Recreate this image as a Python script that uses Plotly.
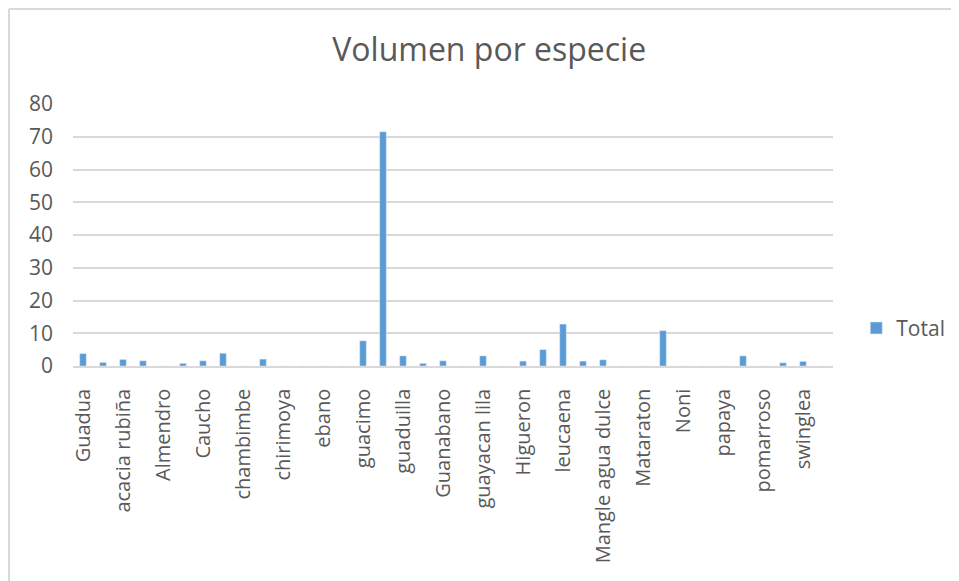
import plotly.graph_objects as go

species = [
    "Guadua", "acacia", "acacia rubiña", "aguacate", "Almendro", "balso",
    "Caucho", "cedro", "chambimbe", "chiminango", "chirimoya", "coco",
    "ebano", "eucalipto", "guacimo", "guadual", "guaduilla", "guamo",
    "Guanabano", "guayabo", "guayacan lila", "guayacan rosado", "Higueron", "iguá",
    "leucaena", "limon", "Mangle agua dulce", "mango", "Mataraton", "nim",
    "Noni", "palma", "papaya", "pino", "pomarroso", "saman",
    "swinglea", "teca",
]
totals = [
    3.8, 1.1, 2.0, 1.6, 0.0, 0.8,
    1.6, 3.9, 0.0, 2.1, 0.0, 0.0,
    0.0, 0.0, 7.7, 71.5, 3.1, 0.8,
    1.6, 0.0, 3.1, 0.0, 1.5, 5.0,
    12.8, 1.5, 1.9, 0.0, 0.0, 10.8,
    0.0, 0.0, 0.0, 3.1, 0.0, 1.0,
    1.4, 0.0,
]
shown_labels = species[::2]

grey = "#595959"
fig = go.Figure(go.Bar(
    x=species, y=totals, name="Total",
    marker=dict(color="#5B9BD5"),
    showlegend=True,
))

fig.update_layout(
    width=951, height=573,
    margin=dict(l=65, r=126, t=96, b=215),
    paper_bgcolor="white", plot_bgcolor="white",
    font=dict(family="Open Sans, Noto Sans, sans-serif", color=grey, size=20),
    title=dict(text="Volumen por especie", x=0.506, xanchor="center",
               y=0.9267, yanchor="middle",
               font=dict(size=32, color=grey)),
    bargap=0.67,
    xaxis=dict(type="category", tickmode="array", tickvals=shown_labels,
               ticktext=shown_labels, tickangle=-90, showgrid=False,
               showline=True, linecolor="#D9D9D9", linewidth=1.5,
               ticks="", tickfont=dict(size=20, color=grey), ticklabelstandoff=13),
    yaxis=dict(range=[0, 80], dtick=10, showgrid=True, gridcolor="#D9D9D9",
               gridwidth=1.5, zeroline=False, ticks="",
               tickfont=dict(size=21, color=grey), ticklabelstandoff=19),
    legend=dict(xref="container", yref="container", x=0.892, y=0.441,
                xanchor="left", yanchor="middle",
                font=dict(size=21, color=grey), itemwidth=30,
                borderwidth=0),
    shapes=[
        dict(type="line", xref="paper", yref="paper", x0=-0.0842, x1=1.2,
             y0=1.363, y1=1.363, line=dict(color="#D9D9D9", width=2)),
        dict(type="line", xref="paper", yref="paper", x0=-0.0842, x1=-0.0842,
             y0=-0.85, y1=1.363, line=dict(color="#D9D9D9", width=2)),
    ],
)

fig.write_html("out.html")
